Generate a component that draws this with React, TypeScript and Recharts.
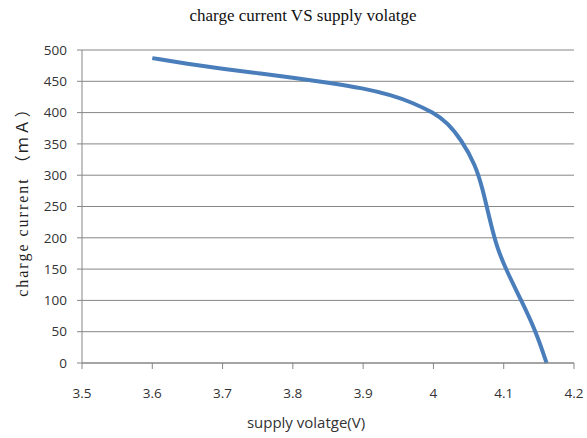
import React from 'react';
import { LineChart, Line, XAxis, YAxis, CartesianGrid } from 'recharts';

const voltage = [3.6, 3.65, 3.7, 3.75, 3.8, 3.85, 3.9, 3.94, 3.97, 4.0, 4.02, 4.04, 4.06, 4.07, 4.08, 4.09, 4.105, 4.125, 4.146, 4.161];
const current = [487, 478, 470, 463, 456, 448, 439, 428, 416, 400, 384, 356, 316, 278, 230, 185, 145, 100, 50, 0];
const xTicks = [3.5, 3.6, 3.7, 3.8, 3.9, 4.0, 4.1, 4.2];
const yTicks = [0, 50, 100, 150, 200, 250, 300, 350, 400, 450, 500];

const data = voltage.map((v, i) => ({ v, mA: current[i] }));

const axisColor = '#868686';
const tickStyle = { fill: '#333', fontSize: 13.5, fontFamily: 'Open Sans, sans-serif' };

export default function App() {
  return (
    <div style={{ position: 'absolute', left: 0, top: 0, width: 587, height: 438, background: '#fff' }}>
      <div
        style={{
          position: 'absolute',
          top: 6,
          left: 303,
          transform: 'translateX(-50%)',
          whiteSpace: 'nowrap',
          fontFamily: 'Liberation Serif, serif',
          fontSize: 17,
          color: '#111',
        }}
      >
        charge current VS supply volatge
      </div>
      <div
        style={{
          position: 'absolute',
          left: 21,
          top: 198,
          transform: 'translate(-50%, -50%) rotate(-90deg)',
          whiteSpace: 'nowrap',
          fontFamily: 'Liberation Serif, Noto Sans CJK SC, serif',
          fontSize: 16,
          letterSpacing: 2,
          color: '#222',
        }}
      >
        charge current （ｍＡ）
      </div>
      <LineChart width={587} height={438} data={data} margin={{ top: 50, right: 13, bottom: 0, left: 30 }}>
        <CartesianGrid horizontal vertical={false} stroke={axisColor} strokeWidth={1} />
        <XAxis
          dataKey="v"
          type="number"
          domain={[3.5, 4.2]}
          ticks={xTicks}
          interval={0}
          tickFormatter={(t: number) => (Math.round(t * 10) / 10).toString()}
          stroke={axisColor}
          tickSize={6}
          tickMargin={19}
          tick={tickStyle}
          height={75}
          label={{
            value: 'supply volatge(V)',
            position: 'insideBottom',
            offset: 10,
            dx: -22,
            style: { fill: '#333', fontSize: 15, fontFamily: 'Open Sans, sans-serif' },
          }}
        />
        <YAxis
          type="number"
          domain={[0, 500]}
          ticks={yTicks}
          interval={0}
          stroke={axisColor}
          tickSize={5}
          tickMargin={10}
          tick={tickStyle}
          width={52}
        />
        <Line
          type="basis"
          dataKey="mA"
          stroke="#4A7EBB"
          strokeWidth={4}
          dot={false}
          isAnimationActive={false}
        />
      </LineChart>
    </div>
  );
}
